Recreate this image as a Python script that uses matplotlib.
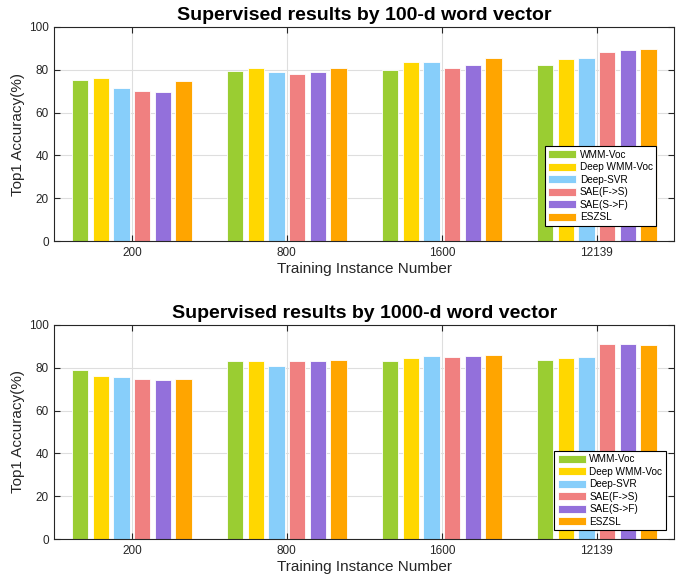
import numpy as np
import matplotlib
matplotlib.use("Agg")
import matplotlib.pyplot as plt

plt.rcParams['font.family'] = ['Liberation Sans', 'DejaVu Sans']

instances = ['200', '800', '1600', '12139']
methods = ['WMM-Voc', 'Deep WMM-Voc', 'Deep-SVR', 'SAE(F->S)', 'SAE(S->F)', 'ESZSL']
colors = ['#9ACD32', '#FFD700', '#87CEFA', '#F08080', '#9370DB', '#FFA500']

# top1 accuracy, 100-d word vector
wmm_100 = [75.3, 79.3, 80.0, 82.0]
deep_wmm_100 = [76.1, 80.9, 83.7, 84.8]
deep_svr_100 = [71.3, 79.0, 83.4, 85.4]
sae_fs_100 = [70.0, 78.0, 80.9, 88.2]
sae_sf_100 = [69.4, 79.0, 82.1, 89.0]
eszsl_100 = [74.7, 80.9, 85.4, 89.8]

# top1 accuracy, 1000-d word vector
wmm_1000 = [78.9, 82.9, 83.2, 83.5]
deep_wmm_1000 = [76.1, 83.2, 84.5, 84.5]
deep_svr_1000 = [75.8, 80.9, 85.6, 85.1]
sae_fs_1000 = [74.8, 83.1, 85.1, 90.8]
sae_sf_1000 = [74.4, 82.9, 85.2, 90.8]
eszsl_1000 = [74.7, 83.5, 85.9, 90.7]

panels = [
    ('Supervised results by 100-d word vector',
     [wmm_100, deep_wmm_100, deep_svr_100, sae_fs_100, sae_sf_100, eszsl_100],
     (0.971, 0.073)),
    ('Supervised results by 1000-d word vector',
     [wmm_1000, deep_wmm_1000, deep_svr_1000, sae_fs_1000, sae_sf_1000, eszsl_1000],
     (0.986, 0.043)),
]

fig = plt.figure(figsize=(6.8, 5.75), dpi=100)
axes = [fig.add_axes([0.0799, 0.5803, 0.9118, 0.3732]),
        fig.add_axes([0.0799, 0.0621, 0.9118, 0.3732])]

x = np.arange(1, len(instances) + 1)
pitch = 0.8 / len(methods)
dark = '#262626'

for ax, (title, series, anchor) in zip(axes, panels):
    for i, vals in enumerate(series):
        offs = (i - (len(methods) - 1) / 2) * pitch
        ax.bar(x + offs, vals, width=pitch * 0.8, color=colors[i],
               edgecolor='white', linewidth=0.6, label=methods[i], zorder=2)
    ax.set_xlim(0.5, 4.5)
    ax.set_ylim(0, 100)
    ax.set_xticks(x)
    ax.set_xticklabels(instances)
    ax.set_yticks(range(0, 101, 20))
    ax.grid(True, color='#dedede', linewidth=0.8, zorder=0)
    ax.set_axisbelow(True)
    ax.tick_params(direction='in', length=4, width=0.8, top=True, right=True,
                   labelsize=8.5, colors=dark, pad=4)
    for s in ax.spines.values():
        s.set_color(dark)
        s.set_linewidth(0.8)
    ax.set_title(title, fontsize=14, fontweight='bold', pad=5)
    ax.set_xlabel('Training Instance Number', fontsize=11, color=dark, labelpad=2)
    ax.set_ylabel('Top1 Accuracy(%)', fontsize=11, color=dark, labelpad=3)
    leg = ax.legend(loc='lower right', bbox_to_anchor=anchor, borderaxespad=0,
                    fontsize=7.2, fancybox=False, framealpha=1, edgecolor='black',
                    handlelength=2.8, handleheight=0.85, handletextpad=0.35,
                    labelspacing=0.25, borderpad=0.35)
    leg.get_frame().set_linewidth(0.8)
    leg.set_zorder(5)

fig.savefig('out.png', dpi=100)
